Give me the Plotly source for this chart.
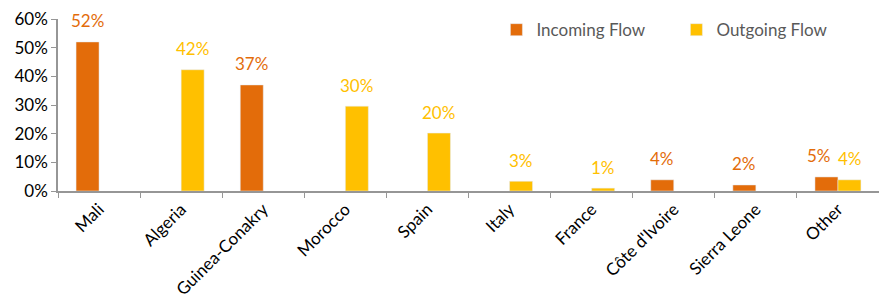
import plotly.graph_objects as go

categories = ["Mali", "Algeria", "Guinea-Conakry", "Morocco", "Spain", "Italy",
              "France", "Côte d'Ivoire", "Sierra Leone", "Other"]
incoming = [52, None, 37, None, None, None, None, 3.9, 2.1, 4.9]
outgoing = [None, 42.3, None, 29.6, 20.2, 3.4, 1.0, None, None, 3.9]
tick_vals = [0, 10, 20, 30, 40, 50, 60]
tick_text = ["0%", "10%", "20%", "30%", "40%", "50%", "60%"]

ORANGE = "#E36C0A"
YELLOW = "#FFC000"
FONT = "Lato"

fig = go.Figure()
fig.add_bar(x=categories, y=incoming, name="Incoming Flow", marker_color=ORANGE,
            hoverinfo="skip")
fig.add_bar(x=categories, y=outgoing, name="Outgoing Flow", marker_color=YELLOW,
            hoverinfo="skip")

for i, c in enumerate(categories):
    both = incoming[i] is not None and outgoing[i] is not None
    for v, color, shift in [(incoming[i], ORANGE, -11.5 - (7 if both else 0)),
                            (outgoing[i], YELLOW, 11.5 + (1 if both else 0))]:
        if v is None:
            continue
        fig.add_annotation(x=c, y=v, text=f"{round(v)}%", showarrow=False,
                           xshift=shift, yshift=21, yanchor="middle",
                           font=dict(family=FONT, size=17, color=color))

fig.update_layout(
    width=879, height=303,
    margin=dict(l=58, r=0, t=19, b=112),
    paper_bgcolor="white", plot_bgcolor="white",
    barmode="group", bargap=0.44, bargroupgap=0,
    hovermode=False,
    font=dict(family=FONT, size=17, color="#000000"),
    legend=dict(orientation="h", x=0.534, y=1.04, xanchor="left", yanchor="top",
                font=dict(family=FONT, size=17, color="#595959"),
                bgcolor="rgba(0,0,0,0)", itemwidth=30, entrywidth=135),
    showlegend=True,
)
fig.update_xaxes(showline=True, linecolor="#969696", linewidth=1.5,
                 tickangle=-45, ticks="outside", ticklen=5, tickcolor="#969696",
                 tickson="boundaries", automargin=False,
                 tickfont=dict(family=FONT, size=17, color="#000000"))
fig.update_yaxes(range=[0, 60], tickvals=tick_vals, ticktext=tick_text,
                 showline=True, linecolor="#969696", linewidth=1.5,
                 ticks="outside", ticklen=5, tickcolor="#969696",
                 showgrid=False, zeroline=False, automargin=False,
                 tickfont=dict(family=FONT, size=17, color="#000000"))

fig.write_html("out.html", config={"displayModeBar": False},
               post_script="document.body.style.margin='0';")
